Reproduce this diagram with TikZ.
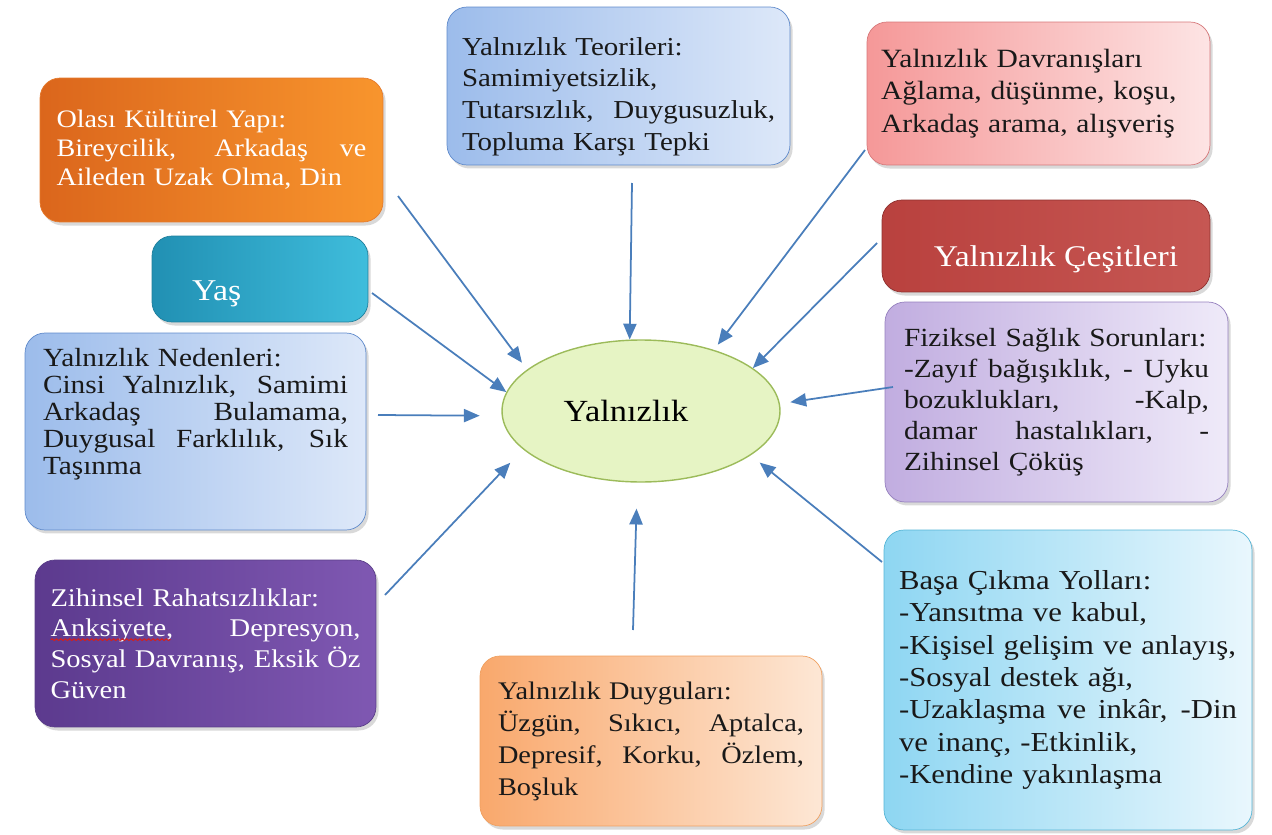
\documentclass[tikz,border=0pt]{standalone}
\usepackage{fontspec}
\setmainfont{Liberation Serif}[FakeStretch=1.12]
\usetikzlibrary{arrows.meta,shadows,shapes.geometric,decorations.pathmorphing}
\definecolor{arrowblue}{HTML}{4A7EBB}
\definecolor{olasiL}{HTML}{DB661C}\definecolor{olasiR}{HTML}{F8952D}\definecolor{olasiD}{HTML}{E57A2C}
\definecolor{yasL}{HTML}{2190B3}\definecolor{yasR}{HTML}{3FBDDC}\definecolor{yasD}{HTML}{1F7F9C}
\definecolor{blueL}{HTML}{9CBCEB}\definecolor{blueR}{HTML}{DDE8F9}\definecolor{blueD}{HTML}{5F8ACB}
\definecolor{zihinL}{HTML}{5C3A8E}\definecolor{zihinR}{HTML}{7F58B2}\definecolor{zihinD}{HTML}{5A3E88}
\definecolor{davranL}{HTML}{F59898}\definecolor{davranR}{HTML}{FDE4E4}\definecolor{davranD}{HTML}{D6787A}
\definecolor{cesitL}{HTML}{B9413E}\definecolor{cesitR}{HTML}{C65753}\definecolor{cesitD}{HTML}{8E302E}
\definecolor{fizikL}{HTML}{C1ADE0}\definecolor{fizikR}{HTML}{EFEAF9}\definecolor{fizikD}{HTML}{9580BE}
\definecolor{basaL}{HTML}{8ED6F2}\definecolor{basaR}{HTML}{E9F7FD}\definecolor{basaD}{HTML}{56B5D6}
\definecolor{duyguL}{HTML}{F9A86C}\definecolor{duyguR}{HTML}{FDE7D5}\definecolor{duyguD}{HTML}{F0A060}
\definecolor{yalFill}{HTML}{E6F4C4}\definecolor{yalDraw}{HTML}{9CBB5A}
\definecolor{spellred}{HTML}{D02020}
\hyphenpenalty=10000
\newcommand\fullline[2]{\leavevmode\hbox to #1{\spaceskip=0.22em plus 1fil\relax #2}}
\tikzset{
  card/.style={rounded corners=0.4cm, align=left, inner sep=0pt, text=black!90,
    drop shadow={opacity=0.3, shadow xshift=1.5pt, shadow yshift=-2pt}},
  conn/.style={draw=arrowblue, line width=1pt, -{Triangle[length=9pt,width=7.5pt]}},
  spell/.style={draw=spellred, line width=0.6pt, decorate, decoration={snake, amplitude=0.5pt, segment length=2.5pt}},
}
\begin{document}
\begin{tikzpicture}[x=0.02cm, y=-0.02cm]
\useasboundingbox (0,0) rectangle (1272,835);
\node[card, left color=olasiL, right color=olasiR, draw=olasiD, text=white, minimum width=6.86cm, minimum height=2.88cm, text width=6.2cm, font=\fontsize{14.3}{16.4}\selectfont] (olasi) at (211.5,150)
  {Olası Kültürel Yapı:\\ \fullline{6.2cm}{Bireycilik, Arkadaş ve}\\ Aileden Uzak Olma, Din};
\node[card, left color=yasL, right color=yasR, draw=yasD, text=white, minimum width=4.32cm, minimum height=1.72cm, text width=2.72cm, inner xsep=0.8cm, font=\fontsize{17.2}{20}\selectfont] (yas) at (260,279)
  {\raisebox{-0.26cm}[0.45cm][0.1cm]{Yaş}};
\node[card, left color=blueL, right color=blueR, draw=blueD, minimum width=6.82cm, minimum height=3.94cm, text width=6.1cm, font=\fontsize{14.9}{15.4}\selectfont] (neden) at (195.5,431.5)
  {Yalnızlık Nedenleri:\\ \fullline{6.1cm}{Cinsi Yalnızlık, Samimi}\\ \fullline{6.1cm}{Arkadaş Bulamama,}\\ \fullline{6.1cm}{Duygusal Farklılık, Sık}\\ Taşınma\rule[-0.8cm]{0pt}{0.8cm}};
\node[card, left color=zihinL, right color=zihinR, draw=zihinD, text=white, minimum width=6.82cm, minimum height=3.34cm, text width=6.2cm, font=\fontsize{14.5}{17.4}\selectfont] (zihin) at (205.5,643.5)
  {Zihinsel Rahatsızlıklar:\\ \fullline{6.2cm}{Anksiyete, Depresyon,}\\ \fullline{6.2cm}{Sosyal Davranış, Eksik Öz}\\ Güven};
\node[card, left color=blueL, right color=blueR, draw=blueD, minimum width=6.86cm, minimum height=3.16cm, text width=6.26cm, font=\fontsize{14.7}{18}\selectfont] (teori) at (618.5,86)
  {\rule{0pt}{0.78cm}Yalnızlık Teorileri:\\ Samimiyetsizlik,\\ \fullline{6.26cm}{Tutarsızlık, Duygusuzluk,}\\ Topluma Karşı Tepki};
\node[card, left color=davranL, right color=davranR, draw=davranD, minimum width=6.86cm, minimum height=2.86cm, text width=6.3cm, font=\fontsize{15}{18.4}\selectfont] (davran) at (1038.5,93.5)
  {Yalnızlık Davranışları\\ Ağlama, düşünme, koşu,\\ Arkadaş arama, alışveriş};
\node[card, left color=cesitL, right color=cesitR, draw=cesitD, text=white, minimum width=6.56cm, minimum height=1.84cm, font=\fontsize{17.1}{20}\selectfont] (cesit) at (1046,246)
  {\raisebox{-0.24cm}[0.45cm][0.1cm]{\hspace{0.4cm}Yalnızlık Çeşitleri}};
\node[card, left color=fizikL, right color=fizikR, draw=fizikD, minimum width=6.86cm, minimum height=4cm, text width=6.1cm, font=\fontsize{14.9}{17.6}\selectfont] (fizik) at (1056.5,402)
  {Fiziksel Sağlık Sorunları:\\ \fullline{6.1cm}{-Zayıf bağışıklık, - Uyku}\\ \fullline{6.1cm}{bozuklukları, -Kalp,}\\ \fullline{6.1cm}{damar hastalıkları, -}\\ Zihinsel Çöküş};
\node[card, left color=basaL, right color=basaR, draw=basaD, minimum width=7.36cm, minimum height=6cm, text width=6.76cm, font=\fontsize{15.6}{18.4}\selectfont] (basa) at (1068,680)
  {Başa Çıkma Yolları:\\ -Yansıtma ve kabul,\\ -Kişisel gelişim ve anlayış,\\ -Sosyal destek ağı,\\ \fullline{6.76cm}{-Uzaklaşma ve inkâr, -Din}\\ ve inanç, -Etkinlik,\\ -Kendine yakınlaşma};
\node[card, left color=duyguL, right color=duyguR, draw=duyguD, minimum width=6.84cm, minimum height=3.4cm, text width=6.12cm, font=\fontsize{14.4}{18.2}\selectfont] (duygu) at (651,741)
  {Yalnızlık Duyguları:\\ \fullline{6.12cm}{Üzgün, Sıkıcı, Aptalca,}\\ \fullline{6.12cm}{Depresif, Korku, Özlem,}\\ Boşluk};
\node[ellipse, draw=yalDraw, fill=yalFill, line width=0.8pt, minimum width=5.56cm, minimum height=2.84cm, inner sep=0pt, font=\fontsize{17.5}{20}\selectfont] (yal) at (641,411)
  {\hspace{-0.6cm}Yalnızlık};
\draw[spell] ([shift={(16,80)}]zihin.north west) -- ++(120,0);
\coordinate (s1) at (398,196);
\coordinate (s2) at (372,293);
\coordinate (s3) at (378,415);
\coordinate (s4) at (385,595);
\coordinate (s5) at (632,183);
\coordinate (s6) at (865,150);
\coordinate (s7) at (877,243);
\coordinate (s8) at (893,387);
\coordinate (s9) at (882,562);
\coordinate (s10) at (633,630);
\draw[conn, shorten >=0.17cm] (s1) -- (yal.160);
\draw[conn] (s2) -- (yal.172);
\draw[conn, shorten >=0.44cm] (s3) -- (yal.182);
\draw[conn, shorten >=0.37cm] (s4) -- (yal.198);
\draw[conn] (s5) -- (yal.99);
\draw[conn, shorten >=0.13cm] (s6) -- (yal.40);
\draw[conn] (s7) -- (yal.21.5);
\draw[conn, shorten >=0.21cm] (s8) -- (yal.3);
\draw[conn, shorten >=0.23cm] (s9) -- (yal.-22.5);
\draw[conn, shorten >=0.52cm] (s10) -- (yal.267);
\end{tikzpicture}
\end{document}
